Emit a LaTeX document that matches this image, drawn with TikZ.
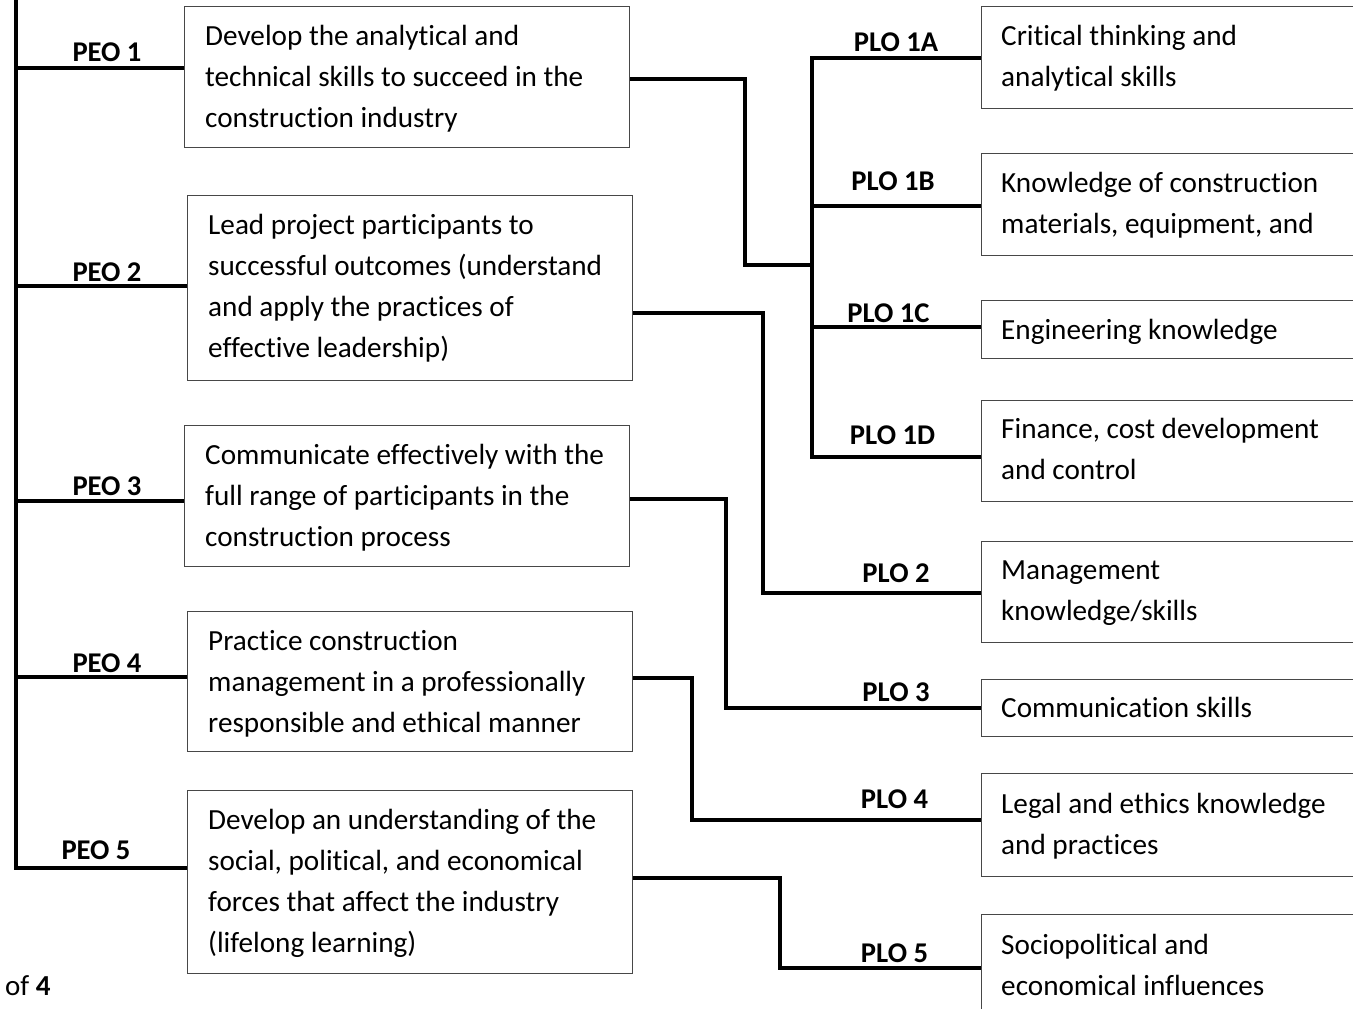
\documentclass[tikz,border=0pt]{standalone}
\usepackage{fontspec}
\setmainfont{Carlito}[Ligatures={NoCommon,NoContextual}]
\usetikzlibrary{calc}
\newcommand{\firstl}{\rule{0pt}{25pt}}
\tikzset{
  box/.style={draw=black!72, line width=1.4pt, rectangle, inner sep=0pt, anchor=north west},
  conn/.style={line width=3.9pt, line join=miter, draw=black},
  txt/.style={inner sep=0pt, anchor=north west, align=left, font=\fontsize{29.2}{41}\selectfont},
  lab/.style={inner sep=0pt, anchor=base, font=\fontsize{28.6}{34}\selectfont\bfseries},
}
\begin{document}
\begin{tikzpicture}[x=1pt,y=-1pt]
\useasboundingbox (0,0) rectangle (1353,1009);
\clip (0,0) rectangle (1353,1009);

% PEO boxes
\node[box, minimum width=445pt, minimum height=141pt] (p1) at (184,6) {};
\node[box, minimum width=445pt, minimum height=185pt] (p2) at (187,195) {};
\node[box, minimum width=445pt, minimum height=141pt] (p3) at (184,425) {};
\node[box, minimum width=445pt, minimum height=140pt] (p4) at (187,611) {};
\node[box, minimum width=445pt, minimum height=183pt] (p5) at (187,790) {};

\node[txt] (t1) at (205,20) {\firstl Develop the analytical and\\technical skills to succeed in the\\construction industry};
\node[txt] (t2) at (208,209) {\firstl Lead project participants to\\successful outcomes (understand\\and apply the practices of\\effective leadership)};
\node[txt] (t3) at (205,439) {\firstl Communicate effectively with the\\full range of participants in the\\construction process};
\node[txt] (t4) at (208,625) {\firstl Practice construction\\management in a professionally\\responsible and ethical manner};
\node[txt] (t5) at (208,804) {\firstl Develop an understanding of the\\social, political, and economical\\forces that affect the industry\\(lifelong learning)};

% PLO boxes
\node[box, minimum width=400pt, minimum height=102pt] (r1a) at (981,6) {};
\node[box, minimum width=400pt, minimum height=102pt] (r1b) at (981,153) {};
\node[box, minimum width=400pt, minimum height=58pt] (r1c) at (981,300) {};
\node[box, minimum width=400pt, minimum height=101pt] (r1d) at (981,400) {};
\node[box, minimum width=400pt, minimum height=101pt] (r2) at (981,541) {};
\node[box, minimum width=400pt, minimum height=57pt] (r3) at (981,679) {};
\node[box, minimum width=400pt, minimum height=103pt] (r4) at (981,773) {};
\node[box, minimum width=400pt, minimum height=120pt] (r5) at (981,914) {};

\node[txt] (s1a) at (1001,20) {\firstl Critical thinking and\\analytical skills};
\node[txt] (s1b) at (1001,167) {\firstl Knowledge of construction\\materials, equipment, and};
\node[txt] (s1c) at (1001,314) {\firstl Engineering knowledge};
\node[txt] (s1d) at (1001,413) {\firstl Finance, cost development\\and control};
\node[txt] (s2) at (1001,554) {\firstl Management\\knowledge/skills};
\node[txt] (s3) at (1001,692) {\firstl Communication skills};
\node[txt] (s4) at (1001,788) {\firstl Legal and ethics knowledge\\and practices};
\node[txt] (s5) at (1001,929) {\firstl Sociopolitical and\\economical influences};

% labels
\node[lab] (l1) at (107,61) {PEO 1};
\node[lab] (l2) at (107,281) {PEO 2};
\node[lab] (l3) at (107,495) {PEO 3};
\node[lab] (l4) at (107,672) {PEO 4};
\node[lab] (l5) at (96,859) {PEO 5};
\node[lab] (m1a) at (896,51) {PLO 1A};
\node[lab] (m1b) at (893,190) {PLO 1B};
\node[lab] (m1c) at (888.5,322) {PLO 1C};
\node[lab] (m1d) at (892.5,444) {PLO 1D};
\node[lab] (m2) at (896,582) {PLO 2};
\node[lab] (m3) at (896,701) {PLO 3};
\node[lab] (m4) at (894.5,808) {PLO 4};
\node[lab] (m5) at (894.5,962) {PLO 5};

\node[inner sep=0pt, anchor=base west, font=\fontsize{29}{34}\selectfont] (pg) at (5,995) {of \textbf{4}};

% spine
\coordinate (spT) at (16,0);
\coordinate (spB) at (16,868);
\draw[conn] (spT) -- (spB) -- (spB -| p5.west);
\draw[conn] (spT |- 0,68) -- (p1.west |- 0,68);
\draw[conn] (spT |- 0,286) -- (p2.west |- 0,286);
\draw[conn] (spT |- 0,501) -- (p3.west |- 0,501);
\draw[conn] (spT |- 0,677) -- (p4.west |- 0,677);

% bus for PLO 1
\coordinate (bT) at (812,58);
\coordinate (bB) at (812,457);
\coordinate (j1) at (745,265);
\draw[conn] (r1a.west |- bT) -- (bT) -- (bB) -- (r1d.west |- bB);
\draw[conn] (bT |- 0,206) -- (r1b.west |- 0,206);
\draw[conn] (bT |- 0,327) -- (r1c.west |- 0,327);
\draw[conn] (p1.east |- 0,79) -| (j1) -- (j1 -| bT);

% other connectors
\draw[conn] (p2.east |- 0,313) -| (763,593) -- (r2.west |- 0,593);
\draw[conn] (p3.east |- 0,499) -| (726,708) -- (r3.west |- 0,708);
\draw[conn] (p4.east |- 0,678) -| (692,820) -- (r4.west |- 0,820);
\draw[conn] (p5.east |- 0,878) -| (780,968) -- (r5.west |- 0,968);
\end{tikzpicture}
\end{document}
